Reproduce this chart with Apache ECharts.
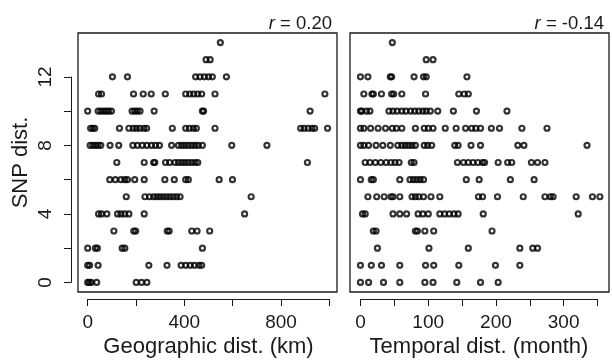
<!DOCTYPE html>
<html>
<head>
<meta charset="utf-8">
<script src="https://cdn.jsdelivr.net/npm/echarts@6/dist/echarts.min.js"></script>
<style>
  html, body { margin: 0; padding: 0; background: #fff; }
  #chart { width: 612px; height: 361px; }
</style>
</head>
<body>
<div id="chart"></div>
<script>
// x values per SNP distance (array index = SNP dist.)
const geoKm = [
  [0, 6, 14, 37, 200, 222, 244],
  [0, 8, 43, 252, 327, 385, 404, 423, 440, 459, 470],
  [0, 32, 40, 142, 153, 473],
  [108, 190, 198, 328, 336, 429, 451, 503],
  [45, 57, 79, 123, 137, 153, 170, 233, 647],
  [159, 236, 255, 272, 285, 298, 312, 325, 339, 353, 367, 381, 674],
  [91, 114, 137, 153, 164, 194, 233, 318, 357, 404, 415, 542, 597],
  [120, 233, 272, 277, 321, 338, 360, 374, 388, 401, 415, 429, 443, 454, 906],
  [10, 21, 32, 43, 54, 92, 128, 186, 205, 225, 244, 263, 280, 296, 346, 374, 388, 401, 415, 429, 443, 456, 473, 594, 739],
  [12, 21, 29, 131, 170, 188, 201, 215, 232, 243, 349, 404, 419, 436, 448, 525, 878, 892, 909, 925, 936, 989],
  [0, 43, 54, 65, 76, 87, 98, 183, 194, 205, 216, 274, 473, 478, 917],
  [45, 57, 189, 229, 262, 320, 404, 421, 437, 454, 470, 525, 978],
  [102, 164, 445, 463, 481, 498, 514, 572],
  [488, 505],
  [547]
];
const months = [
  [0, 12, 34, 58, 95, 107, 142, 177, 203],
  [0, 16, 31, 58, 96, 108, 145, 199, 235],
  [25, 101, 159, 235, 254, 261],
  [19, 23, 81, 84, 95, 108, 194],
  [3, 7, 48, 58, 68, 85, 92, 100, 117, 124, 131, 138, 144, 181, 321],
  [11, 24, 35, 45, 48, 58, 76, 81, 86, 93, 104, 117, 174, 180, 202, 240, 272, 280, 284, 318, 342, 353],
  [0, 16, 19, 58, 73, 78, 83, 88, 93, 156, 175, 221, 256],
  [7, 14, 22, 30, 38, 45, 51, 57, 75, 79, 143, 152, 159, 166, 173, 180, 183, 203, 217, 223, 252, 261, 272],
  [0, 5, 12, 23, 33, 44, 55, 61, 66, 71, 76, 81, 94, 99, 105, 139, 144, 163, 177, 232, 241, 334],
  [0, 5, 15, 26, 37, 47, 53, 61, 81, 94, 100, 107, 125, 141, 155, 164, 170, 177, 193, 205, 238, 275],
  [0, 2, 9, 14, 42, 48, 54, 61, 67, 74, 80, 86, 92, 97, 103, 114, 137, 171, 216],
  [5, 17, 19, 31, 46, 49, 61, 96, 145, 153, 159],
  [0, 11, 44, 46, 79, 93, 97, 157],
  [97, 107],
  [47]
];
const geoTickLabels = [0, 400, 800];
const monthTickLabels = [0, 100, 200, 300];
const snpTickLabels = [0, 4, 8, 12];
const rValues = ['0.20', '-0.14'];

const toPoints = (rows) => {
  const pts = [];
  rows.forEach((row, snp) => row.forEach(x => pts.push([x, snp])));
  return pts;
};

const font = 'Liberation Sans, Arial, sans-serif';
const ink = '#1a1a1a';

const myChart = echarts.init(document.getElementById('chart'), null, { renderer: 'canvas' });

const hiddenAxis = (grid, min, max) => ({
  gridIndex: grid, type: 'value', min: min, max: max, show: false
});

const tickAxis = (grid, min, max, interval, labels, name) => ({
  gridIndex: grid,
  type: 'value',
  position: 'bottom',
  min: min,
  max: max,
  interval: interval,
  name: name,
  nameLocation: 'middle',
  nameGap: 37,
  nameTextStyle: { fontFamily: font, fontSize: 22, color: ink },
  axisLine: { show: true, lineStyle: { color: ink, width: 1 } },
  axisTick: { show: true, length: 7, lineStyle: { color: ink, width: 1 } },
  axisLabel: {
    margin: 14,
    fontFamily: font,
    fontSize: 19,
    color: ink,
    formatter: v => labels.includes(v) ? String(v) : ''
  },
  splitLine: { show: false }
});

const boxGrid = (left) => ({
  left: left, top: 33, width: 259, height: 259,
  show: true, borderColor: ink, borderWidth: 1.3, backgroundColor: 'transparent'
});

const pointStyle = {
  color: 'rgba(0,0,0,0)',
  borderColor: '#000',
  borderWidth: 2.2
};

const rTitle = (text, right) => ({
  text: '{i|r} = ' + text,
  right: right, top: 9,
  textStyle: { fontFamily: font, fontSize: 18.5, fontWeight: 'normal', color: ink,
    rich: { i: { fontFamily: font, fontSize: 18.5, fontStyle: 'italic', color: ink } } }
});

myChart.setOption({
  animation: false,
  backgroundColor: '#fff',
  title: [rTitle(rValues[0], 275), rTitle(rValues[1], 3)],
  grid: [
    boxGrid(78),
    boxGrid(350),
    { left: 87.7, top: 298, width: 241.6, height: 1 },
    { left: 360.5, top: 298, width: 237, height: 1 },
    { left: 71, top: 76.9, width: 1, height: 205.5 }
  ],
  xAxis: [
    hiddenAxis(0, -40, 1028),
    hiddenAxis(1, -15.4, 366.4),
    tickAxis(2, 0, 1000, 200, geoTickLabels, 'Geographic dist. (km)'),
    tickAxis(3, 0, 350, 50, monthTickLabels, 'Temporal dist. (month)'),
    hiddenAxis(4, 0, 1)
  ],
  yAxis: [
    {
      // box y axis: only carries the title, centred on the plot region
      gridIndex: 0, type: 'value', min: -0.56, max: 14.56,
      name: 'SNP dist.',
      nameLocation: 'middle',
      nameGap: 46,
      nameTextStyle: { fontFamily: font, fontSize: 22, color: ink },
      axisLine: { show: false },
      axisTick: { show: false },
      axisLabel: { show: false },
      splitLine: { show: false }
    },
    hiddenAxis(1, -0.56, 14.56),
    hiddenAxis(2, 0, 1),
    hiddenAxis(3, 0, 1),
    {
      gridIndex: 4,
      type: 'value',
      position: 'left',
      min: 0,
      max: 12,
      interval: 2,
      axisLine: { show: true, lineStyle: { color: ink, width: 1 } },
      axisTick: { show: true, length: 7, lineStyle: { color: ink, width: 1 } },
      axisLabel: {
        rotate: 90,
        margin: 16,
        fontFamily: font,
        fontSize: 19,
        color: ink,
        formatter: v => snpTickLabels.includes(v) ? String(v) : ''
      },
      splitLine: { show: false }
    }
  ],
  series: [
    {
      type: 'scatter', xAxisIndex: 0, yAxisIndex: 0,
      symbol: 'circle', symbolSize: 5,
      itemStyle: pointStyle,
      data: toPoints(geoKm)
    },
    {
      type: 'scatter', xAxisIndex: 1, yAxisIndex: 1,
      symbol: 'circle', symbolSize: 5,
      itemStyle: pointStyle,
      data: toPoints(months)
    }
  ]
});
</script>
</body>
</html>
